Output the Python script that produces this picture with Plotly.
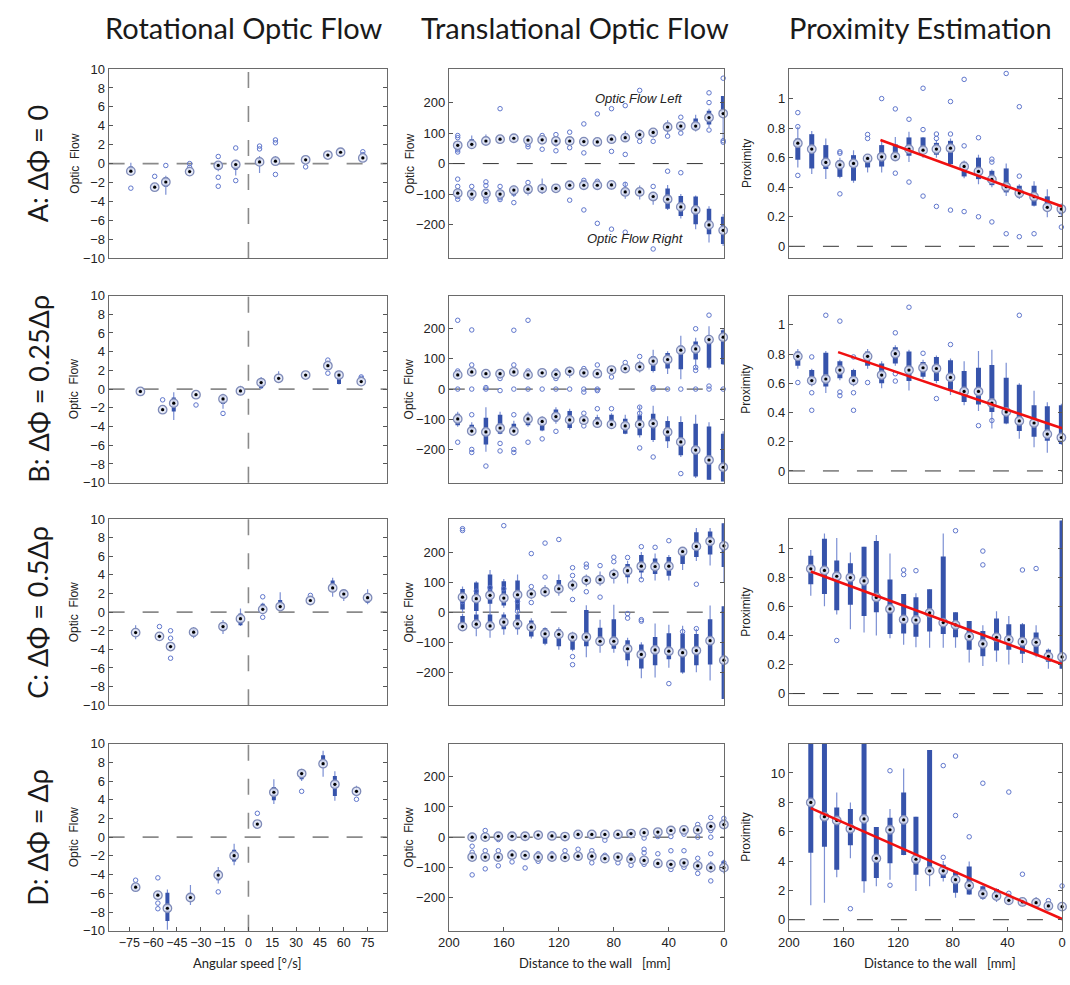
import plotly.graph_objects as go

# ======================= DATA =======================
# ---- Column 1: Rotational optic flow (x = angular speed, deg/s) ----
A_rot_x = [-74, -59, -52, -37, -19, -8, 7, 17, 36, 50, 58, 72]
A_rot_med = [-0.8, -2.5, -1.95, -0.85, -0.2, -0.1, 0.18, 0.25, 0.4, 0.9, 1.2, 0.6]
A_rot_q1 = [-1.0, -2.6, -2.45, -0.95, -0.65, -0.65, 0.0, 0.05, 0.3, 0.8, 1.05, 0.5]
A_rot_q3 = [-0.3, -2.3, -1.45, -0.7, 0.0, 0.05, 0.6, 0.65, 0.5, 1.0, 1.35, 0.7]
A_rot_lo = [-1.1, -2.7, -3.3, -1.1, -0.8, -1.25, -1.0, -0.1, 0.2, 0.7, 1.0, 0.4]
A_rot_hi = [0.1, -2.1, -1.3, -0.5, 0.2, 0.4, 0.8, 0.8, 0.6, 1.1, 1.4, 0.8]
A_rot_ox = [-74, -59, -52, -37, -37, -19, -19, -19, -8, -8, 7, 7, 17, 17, 17, 36, 72, 72]
A_rot_oy = [-2.6, -1.35, -0.2, 0.0, -0.4, 0.75, -1.45, -2.4, 1.65, -1.8, 1.85, 1.55, 2.5, 2.2, -1.15, -0.35, 1.25, 0.95]

B_rot_x = [-68, -54, -47, -33, -16, -5, 8, 19, 36, 50, 57, 71]
B_rot_med = [-0.25, -2.2, -1.5, -0.6, -1.05, -0.2, 0.7, 1.15, 1.5, 2.5, 1.5, 0.8]
B_rot_q1 = [-0.4, -2.35, -2.4, -0.7, -1.6, -0.4, 0.1, 1.0, 1.35, 2.3, 0.55, 0.7]
B_rot_q3 = [-0.1, -2.05, -0.9, -0.5, -0.7, -0.05, 1.15, 1.3, 1.6, 2.7, 1.8, 0.95]
B_rot_lo = [-0.55, -2.45, -3.3, -0.8, -2.1, -0.65, 0.0, 0.7, 1.2, 2.1, 0.5, 0.6]
B_rot_hi = [0.05, -1.9, -0.35, -0.4, -0.5, 0.35, 1.3, 1.9, 1.7, 2.9, 1.9, 1.05]
B_rot_ox = [-54, -33, -16, 50, 50, 50, 71, 71]
B_rot_oy = [-1.15, -1.7, -2.6, 3.1, 2.75, 1.7, 1.3, 1.15]

C_rot_x = [-71, -56, -49, -34.5, -16, -5, 9, 20, 39, 53, 60, 75]
C_rot_med = [-2.2, -2.6, -3.7, -2.15, -1.55, -0.7, 0.3, 0.6, 1.25, 2.6, 1.95, 1.55]
C_rot_q1 = [-2.35, -2.75, -3.85, -2.65, -2.0, -1.4, 0.2, 0.4, 1.1, 2.3, 1.65, 1.0]
C_rot_q3 = [-2.05, -2.45, -3.55, -1.8, -1.15, -0.15, 0.9, 1.3, 1.4, 3.4, 2.35, 1.8]
C_rot_lo = [-2.9, -2.9, -4.0, -2.8, -2.35, -1.5, 0.05, 0.2, 0.95, 1.65, 1.2, 0.85]
C_rot_hi = [-1.4, -2.2, -3.4, -1.6, -0.85, 0.4, 1.0, 2.15, 1.5, 3.7, 2.5, 2.45]
C_rot_ox = [-56, -49, -49, -49, 9, 9, 39]
C_rot_oy = [-1.55, -2.0, -2.8, -4.95, 1.65, -0.55, 1.8]

D_rot_x = [-71, -57, -51, -36.5, -19, -9, 5.6, 16, 33.5, 47, 54.4, 68]
D_rot_med = [-5.35, -6.2, -7.6, -6.45, -4.05, -1.98, 1.4, 4.8, 6.8, 7.85, 5.65, 4.9]
D_rot_q1 = [-5.6, -6.4, -8.95, -6.7, -4.6, -2.6, 1.2, 3.95, 6.2, 7.6, 4.4, 4.7]
D_rot_q3 = [-5.1, -5.95, -5.95, -6.0, -3.55, -1.35, 1.6, 5.35, 7.15, 8.75, 6.55, 5.1]
D_rot_lo = [-5.85, -6.5, -9.9, -7.25, -4.95, -3.0, 1.1, 3.55, 6.0, 6.45, 3.9, 4.4]
D_rot_hi = [-4.95, -5.8, -5.6, -5.1, -3.2, -0.7, 1.7, 6.2, 7.3, 9.25, 7.05, 5.5]
D_rot_ox = [-71, -57, -57, -57, -19, 5.6, 33.5, 68]
D_rot_oy = [-4.6, -4.35, -7.05, -7.65, -5.85, 2.55, 4.9, 4.05]

# ---- Column 2: Translational optic flow (x = distance to wall, mm) ----
A_tra_x = [193.5, 183.3, 173, 162.7, 152.7, 142.4, 132.1, 122.1, 112.1, 101.8,
           92, 81.7, 71.7, 61.2, 51.4, 40.9, 31.3, 20.5, 10.8, 0.5]
A_traL_med = [60, 63, 74, 80, 83, 77, 78, 74, 74, 72, 71, 80, 85, 95, 102, 120, 123, 123, 151, 164]
A_traL_q1 = [48, 55, 67, 74, 76, 70, 72, 67, 67, 66, 65, 72, 76, 86, 92, 108, 113, 110, 128, 156]
A_traL_q3 = [68, 80, 80, 87, 89, 82, 84, 80, 80, 78, 77, 86, 100, 103, 110, 130, 130, 148, 173, 222]
A_traL_lo = [40, 50, 60, 70, 70, 65, 65, 60, 60, 60, 60, 65, 72, 80, 85, 95, 105, 105, 120, 74]
A_traL_hi = [75, 92, 95, 92, 96, 87, 90, 86, 86, 84, 84, 92, 108, 112, 115, 142, 135, 160, 180, 222]
A_traL_ox = [193.5, 193.5, 193.5, 193.5, 162.7, 142.4, 142.4, 132.1, 132.1, 122.1, 122.1, 122.1,
             112.1, 112.1, 101.8, 101.8, 92, 81.7, 81.7, 71.7, 71.7, 61.2, 61.2, 51.4, 40.9,
             31.3, 31.3, 10.8, 10.8, 10.8, 0.5, 0.5, 0.5]
A_traL_oy = [92, 85, 45, 38, 180, 63, 55, 92, 47, 95, 65, 42, 103, 52, 130, 35, 163, 180, 40,
             190, 30, 240, 73, 73, 90, 152, 100, 232, 200, 110, 280, 75, 70]
A_traR_med = [-97, -100, -98, -100, -87, -84, -82, -81, -71, -71, -71, -70, -93, -93, -108, -117, -142, -152, -201, -219]
A_traR_q3 = [-85, -88, -90, -90, -78, -75, -68, -73, -63, -63, -63, -63, -82, -80, -100, -82, -106, -108, -148, -174]
A_traR_q1 = [-108, -110, -108, -110, -105, -100, -95, -90, -78, -78, -78, -78, -105, -105, -122, -148, -172, -199, -232, -264]
A_traR_hi = [-80, -82, -85, -85, -72, -70, -49, -68, -58, -58, -58, -58, -60, -72, -92, -70, -100, -105, -140, -165]
A_traR_lo = [-112, -115, -112, -115, -110, -105, -100, -95, -85, -85, -85, -85, -115, -118, -135, -152, -180, -215, -259, -270]
A_traR_ox = [193.5, 193.5, 193.5, 193.5, 183.3, 183.3, 173, 173, 173, 173, 162.7, 162.7, 162.7,
             152.7, 142.4, 112.1, 101.8, 101.8, 101.8, 92, 92, 81.7, 71.7, 71.7, 51.4, 51.4, 40.9, 31.3]
A_traR_oy = [-51, -75, -108, -117, -75, -113, -60, -72, -113, -123, -75, -112, -118, -128, -62,
             -120, -55, -62, -152, -58, -196, -215, -68, -225, -75, -280, -25, -30]

B_tra_x = [193.5, 183.3, 173, 162.7, 152.7, 142.4, 132.1, 122.1, 112.1, 101.8,
           92, 81.7, 71.7, 61.2, 51.4, 40.9, 31.3, 20.5, 10.8, 0.5]
B_traL_med = [47, 57, 51, 51, 57, 47, 54, 49, 59, 54, 51, 63, 68, 74, 93, 98, 129, 133, 164, 172]
B_traL_q1 = [40, 50, 45, 42, 50, 40, 48, 42, 45, 45, 45, 55, 60, 62, 60, 68, 66, 98, 71, 82]
B_traL_q3 = [55, 62, 56, 58, 62, 55, 58, 56, 65, 60, 58, 68, 73, 84, 109, 120, 144, 158, 172, 195]
B_traL_lo = [35, 45, 40, 35, 45, 35, 42, 38, 38, 40, 40, 48, 55, 55, 55, 50, 33, 70, 65, 80]
B_traL_hi = [60, 67, 60, 62, 66, 60, 62, 60, 70, 65, 62, 72, 80, 95, 130, 125, 177, 170, 208, 200]
B_traL_ox = [193.5, 193.5, 193.5, 183.3, 183.3, 183.3, 173, 173, 162.7, 162.7, 152.7, 152.7, 152.7,
             142.4, 142.4, 142.4, 132.1, 122.1, 122.1, 122.1, 112.1, 112.1, 101.8, 101.8, 101.8,
             92, 92, 92, 81.7, 71.7, 61.2, 51.4, 51.4, 40.9, 31.3, 20.5, 20.5, 20.5, 20.5,
             10.8, 10.8, 10.8, 0.5]
B_traL_oy = [228, 60, 0, 196, 80, 0, 5, 0, 35, -5, 195, 80, 0,
             228, 60, 0, 0, 60, 35, 0, 65, 0, 68, -10, 0,
             80, -5, 0, 40, 88, 108, 5, 0, 0, 0, 200, 72, 62, 0,
             245, 10, 0, 0]
B_traR_med = [-99, -139, -142, -129, -139, -99, -107, -91, -102, -103, -113, -117, -122, -117, -114, -142, -175, -202, -235, -259]
B_traR_q3 = [-82, -118, -95, -85, -115, -82, -96, -68, -73, -90, -93, -85, -98, -87, -82, -106, -109, -115, -124, -148]
B_traR_q1 = [-120, -145, -184, -148, -144, -120, -137, -107, -129, -111, -120, -126, -148, -153, -169, -173, -219, -290, -300, -306]
B_traR_hi = [-75, -110, -60, -75, -105, -75, -90, -60, -65, -85, -85, -80, -85, -55, -55, -90, -90, -85, -110, -140]
B_traR_lo = [-125, -150, -208, -150, -150, -125, -140, -115, -135, -115, -125, -130, -150, -160, -175, -195, -225, -295, -300, -306]
B_traR_ox = [193.5, 183.3, 183.3, 183.3, 173, 162.7, 162.7, 152.7, 152.7, 152.7, 142.4, 132.1, 122.1,
             101.8, 101.8, 92, 81.7, 61.2, 61.2, 61.2, 51.4, 31.3]
B_traR_oy = [-176, -85, -200, -210, -255, -180, -205, -85, -200, -210, -176, -165, -140,
             -80, -122, -65, -65, -195, -80, -60, -225, -280]

C_tra_x = [190, 180, 170, 160, 150, 140, 130, 120, 110, 100, 90, 80, 70, 60, 50, 40, 30, 20, 10, 0]
C_traL_med = [50, 45, 56, 47, 58, 61, 68, 78, 90, 106, 108, 126, 138, 153, 152, 153, 202, 219, 236, 221]
C_traL_q1 = [9, 4, 28, 22, 7, 52, 60, 67, 80, 95, 95, 110, 116, 132, 127, 121, 160, 184, 192, 150]
C_traL_q3 = [77, 99, 125, 103, 105, 68, 78, 107, 103, 118, 122, 135, 160, 190, 179, 184, 211, 266, 269, 296]
C_traL_lo = [0, -5, 0, 15, 0, 45, 50, 55, 70, 85, 88, 95, 95, 110, 105, 105, 140, 170, 155, 100]
C_traL_hi = [85, 103, 140, 110, 125, 75, 90, 125, 110, 125, 135, 145, 170, 200, 195, 190, 212, 280, 280, 296]
C_traL_ox = [190, 190, 190, 180, 170, 160, 160, 150, 150, 140, 140, 140, 130, 130, 120, 110, 110, 110,
             100, 100, 100, 90, 90, 80, 80, 70, 60, 60, 50, 40, 20]
C_traL_oy = [278, 272, 35, 70, 82, 288, 78, 35, 3, 195, 85, 32, 230, 117, 242, 148, 122, 42,
             160, 150, 68, 155, 50, 183, 168, 182, 218, 108, 216, 238, 93]
C_traR_med = [-48, -40, -46, -33, -39, -50, -72, -74, -83, -83, -97, -97, -122, -141, -126, -130, -135, -128, -95, -160]
C_traR_q3 = [-13, -8, -8, -8, -8, -28, -54, -57, -70, 7, -52, -24, -94, -108, -83, -70, -72, -73, -24, 20]
C_traR_q1 = [-54, -54, -54, -57, -57, -81, -105, -114, -125, -114, -113, -122, -160, -188, -177, -157, -201, -177, -174, -289]
C_traR_hi = [-5, 0, 0, 0, 0, -20, -50, -50, -65, 23, -25, 25, -85, -100, -38, -42, -45, -55, 22, 20]
C_traR_lo = [-60, -80, -85, -75, -75, -88, -110, -125, -130, -150, -135, -135, -180, -220, -218, -185, -205, -200, -228, -289]
C_traR_ox = [110, 110, 70, 70, 60, 60, 40, 30, 20]
C_traR_oy = [-148, -175, -5, -20, -25, -30, -238, -65, -55]

D_tra_x = [183, 173.5, 164, 154, 144.5, 135, 125, 115.5, 106, 96, 86.5, 77, 67.5, 58, 48, 38.5, 29, 19, 9.5, 0]
D_traL_med = [0, 0, 3, 3, 3, 7, 4, 2, 9, 9, 9, 9, 12, 15, 17, 22, 24, 24, 36, 42]
D_traL_q1 = [-3, -3, 0, 0, 0, 3, 0, -2, 5, 5, 5, 5, 8, 11, 13, 18, 20, 20, 30, 35]
D_traL_q3 = [4, 4, 7, 7, 7, 10, 8, 6, 13, 13, 13, 13, 16, 19, 21, 26, 28, 28, 42, 50]
D_traL_lo = [-6, -6, -3, -3, -3, 0, -3, -5, 2, 2, 2, 2, 5, 8, 10, 15, 17, 17, 26, 30]
D_traL_hi = [7, 7, 10, 10, 10, 13, 11, 9, 16, 16, 16, 16, 19, 22, 24, 29, 31, 31, 46, 56]
D_traL_ox = [183, 183, 173.5, 164, 164, 154, 144.5, 135, 125, 115.5, 106, 96, 86.5, 77, 67.5, 58, 48,
             38.5, 29, 19, 19, 9.5, 9.5, 9.5, 0, 0]
D_traL_oy = [5, -3, 22, 5, -8, 5, 3, 5, 10, -3, 10, 8, -10, 5, 12, -3, 2,
             2, 10, 42, 0, 65, 22, 0, 62, 45]
D_traR_med = [-66, -66, -66, -59, -60, -66, -66, -67, -63, -63, -71, -66, -73, -77, -87, -90, -85, -95, -101, -101]
D_traR_q3 = [-61, -61, -61, -54, -55, -61, -61, -62, -58, -58, -66, -61, -68, -72, -82, -85, -80, -88, -85, -80]
D_traR_q1 = [-72, -72, -72, -65, -66, -72, -72, -73, -69, -69, -77, -72, -79, -83, -93, -96, -91, -103, -110, -115]
D_traR_hi = [-57, -57, -57, -50, -51, -57, -50, -58, -54, -54, -62, -57, -64, -68, -78, -81, -76, -84, -80, -75]
D_traR_lo = [-76, -76, -76, -69, -70, -76, -76, -77, -73, -73, -81, -76, -83, -87, -97, -100, -95, -110, -118, -120]
D_traR_ox = [183, 183, 183, 173.5, 173.5, 164, 164, 154, 154, 144.5, 135, 135, 125, 115.5, 106, 96, 96,
             86.5, 77, 67.5, 67.5, 58, 58, 58, 48, 38.5, 38.5, 29, 29, 19, 19, 9.5, 9.5, 0]
D_traR_oy = [-30, -50, -125, -45, -105, -45, -95, -50, -82, -102, -55, -80, -55, -45, -40, -45, -85,
             -60, -85, -60, -93, -40, -52, -90, -55, -45, -107, -45, -100, -70, -120, -55, -145, -85]

# ---- Column 3: Proximity estimation ----
A_pro_x = [193.5, 183.3, 173, 162.7, 152.7, 142.4, 132.1, 122.1, 112.1, 101.8,
           92, 81.7, 71.7, 61.2, 51.4, 40.9, 31.3, 20.5, 10.8, 0.5]
A_pro_med = [0.698, 0.658, 0.568, 0.552, 0.561, 0.595, 0.606, 0.608, 0.658, 0.651, 0.658, 0.664, 0.541, 0.507, 0.453, 0.403, 0.360, 0.336, 0.264, 0.252]
A_pro_q1 = [0.586, 0.527, 0.523, 0.47, 0.444, 0.534, 0.54, 0.586, 0.613, 0.635, 0.62, 0.556, 0.473, 0.455, 0.414, 0.365, 0.331, 0.275, 0.252, 0.218]
A_pro_q3 = [0.73, 0.759, 0.685, 0.58, 0.617, 0.613, 0.685, 0.69, 0.737, 0.737, 0.70, 0.714, 0.572, 0.60, 0.511, 0.527, 0.41, 0.41, 0.338, 0.27]
A_pro_lo = [0.534, 0.49, 0.455, 0.46, 0.43, 0.5, 0.5, 0.58, 0.57, 0.6, 0.6, 0.55, 0.46, 0.42, 0.40, 0.34, 0.32, 0.27, 0.196, 0.20]
A_pro_hi = [0.81, 0.78, 0.73, 0.6, 0.65, 0.62, 0.72, 0.74, 0.775, 0.74, 0.72, 0.73, 0.58, 0.62, 0.52, 0.56, 0.42, 0.44, 0.387, 0.29]
A_pro_ox = [193.5, 193.5, 193.5, 162.7, 162.7, 162.7, 142.4, 142.4, 132.1, 122.1, 122.1, 112.1, 112.1,
            101.8, 101.8, 101.8, 92, 92, 92, 81.7, 81.7, 81.7, 71.7, 71.7, 71.7, 61.2, 61.2,
            51.4, 51.4, 51.4, 40.9, 40.9, 31.3, 31.3, 31.3, 20.5, 0.5]
A_pro_oy = [0.905, 0.81, 0.48, 0.64, 0.63, 0.355, 0.757, 0.73, 1.0, 0.93, 0.495, 0.86, 0.435,
            1.07, 0.79, 0.34, 0.76, 0.73, 0.27, 0.98, 0.76, 0.245, 1.13, 0.68, 0.235, 0.735, 0.2,
            0.59, 0.57, 0.165, 1.17, 0.085, 0.945, 0.475, 0.065, 0.085, 0.13]
A_fit_x = [133, 0]
A_fit_y = [0.72, 0.27]

B_pro_x = [193.5, 183.3, 173, 162.7, 152.7, 142.4, 132.1, 122.1, 112.1, 101.8,
           92, 81.7, 71.7, 61.2, 51.4, 40.9, 31.3, 20.5, 10.8, 0.5]
B_pro_med = [0.784, 0.618, 0.629, 0.690, 0.618, 0.784, 0.656, 0.802, 0.690, 0.706, 0.701, 0.640, 0.544, 0.544, 0.465, 0.404, 0.342, 0.328, 0.252, 0.229]
B_pro_q1 = [0.719, 0.589, 0.578, 0.634, 0.589, 0.719, 0.60, 0.735, 0.616, 0.645, 0.616, 0.555, 0.472, 0.454, 0.404, 0.324, 0.274, 0.234, 0.207, 0.184]
B_pro_q3 = [0.818, 0.69, 0.809, 0.751, 0.69, 0.818, 0.735, 0.847, 0.818, 0.746, 0.78, 0.757, 0.683, 0.706, 0.724, 0.638, 0.589, 0.449, 0.443, 0.449]
B_pro_lo = [0.70, 0.58, 0.534, 0.62, 0.58, 0.70, 0.565, 0.72, 0.55, 0.63, 0.60, 0.52, 0.45, 0.41, 0.29, 0.32, 0.22, 0.162, 0.125, 0.18]
B_pro_hi = [0.835, 0.70, 0.82, 0.76, 0.70, 0.835, 0.75, 0.86, 0.83, 0.76, 0.79, 0.77, 0.75, 0.82, 0.83, 0.74, 0.60, 0.548, 0.47, 0.46]
B_pro_ox = [193.5, 183.3, 183.3, 183.3, 173, 162.7, 162.7, 162.7, 152.7, 152.7, 152.7, 142.4,
            122.1, 122.1, 122.1, 112.1, 101.8, 92, 81.7, 61.2, 51.4, 31.3]
B_pro_oy = [0.605, 0.78, 0.535, 0.415, 1.065, 1.025, 0.54, 0.515, 0.78, 0.535, 0.415, 0.605,
            0.945, 0.665, 0.615, 1.12, 0.805, 0.495, 0.865, 0.31, 0.345, 1.065]
B_fit_x = [164, 0]
B_fit_y = [0.813, 0.292]

C_pro_x = [184, 174, 165, 155, 145, 136, 126, 116, 107, 97, 87, 78, 68, 58, 48, 39, 29, 19, 10, 0]
C_pro_med = [0.858, 0.847, 0.807, 0.798, 0.775, 0.661, 0.582, 0.510, 0.506, 0.555, 0.488, 0.472, 0.393, 0.342, 0.387, 0.371, 0.357, 0.353, 0.256, 0.252]
C_pro_q1 = [0.751, 0.685, 0.573, 0.611, 0.533, 0.56, 0.409, 0.413, 0.391, 0.427, 0.409, 0.387, 0.301, 0.256, 0.297, 0.301, 0.274, 0.263, 0.218, 0.17]
C_pro_q3 = [0.948, 1.065, 0.915, 0.897, 1.01, 1.05, 0.784, 0.685, 0.663, 0.717, 0.942, 0.56, 0.499, 0.431, 0.517, 0.476, 0.476, 0.42, 0.301, 1.19]
C_pro_lo = [0.672, 0.6, 0.544, 0.443, 0.42, 0.40, 0.38, 0.335, 0.319, 0.315, 0.315, 0.315, 0.213, 0.189, 0.218, 0.20, 0.21, 0.25, 0.17, 0.17]
C_pro_hi = [0.987, 1.1, 1.07, 0.97, 1.01, 1.09, 0.964, 0.685, 0.69, 0.717, 1.1, 0.56, 0.499, 0.47, 0.566, 0.533, 0.486, 0.47, 0.31, 1.19]
C_pro_ox = [165, 116, 116, 107, 78, 58, 58, 29, 19]
C_pro_oy = [0.365, 0.818, 0.85, 0.845, 1.12, 0.98, 0.885, 0.85, 0.86]
C_fit_x = [184, 0]
C_fit_y = [0.84, 0.202]

D_pro_x = [184, 174, 165, 155, 145, 136, 126, 116, 107, 97, 87, 78, 68, 58, 48, 39, 29, 19, 10, 0]
D_pro_med = [7.99, 7.02, 6.76, 6.2, 6.87, 4.18, 6.13, 6.8, 4.12, 3.33, 3.33, 2.73, 2.33, 1.77, 1.61, 1.32, 1.21, 1.16, 0.94, 0.89]
D_pro_q1 = [4.56, 4.97, 3.4, 5.08, 2.62, 2.84, 3.85, 4.41, 3.06, 3.25, 2.84, 1.83, 1.72, 1.43, 1.4, 1.1, 1.0, 0.95, 0.75, 0.7]
D_pro_q3 = [13, 13, 7.65, 7.54, 13, 6.31, 6.94, 8.66, 7.02, 11.57, 3.74, 3.29, 3.62, 2.28, 2.1, 1.7, 1.35, 1.35, 1.1, 1.0]
D_pro_lo = [0.98, 1.16, 2.9, 4.18, 1.83, 2.28, 2.73, 4.4, 1.95, 2.28, 2.6, 1.5, 1.7, 1.35, 1.2, 1.0, 0.9, 0.85, 0.7, 0.65]
D_pro_hi = [13, 13, 8.66, 7.99, 13, 6.31, 7.54, 10.3, 7.02, 11.57, 4.0, 3.29, 3.96, 2.35, 2.15, 1.8, 1.5, 1.55, 1.2, 1.1]
D_pro_ox = [155, 126, 126, 87, 87, 78, 78, 68, 58, 39, 39, 29, 10, 0]
D_pro_oy = [0.75, 10.15, 2.35, 10.5, 4.25, 11.15, 7.1, 5.65, 9.3, 8.7, 1.8, 3.1, 1.3, 2.3]
D_fit_x = [184, 0]
D_fit_y = [7.6, 0.05]

# ---- text ----
COL_TITLES = ["Rotational Optic Flow", "Translational Optic Flow", "Proximity Estimation"]
ROW_LABELS = ["A: ΔΦ = 0", "B: ΔΦ = 0.25Δρ", "C: ΔΦ = 0.5Δρ", "D: ΔΦ = Δρ"]
ROT_TICKS = [-75, -60, -45, -30, -15, 0, 15, 30, 45, 60, 75]
ROT_YTICKS = [-10, -8, -6, -4, -2, 0, 2, 4, 6, 8, 10]
TRA_YTICKS = [-200, -100, 0, 100, 200]
DIST_TICKS = [200, 160, 120, 80, 40, 0]
PRO_YTICKS = [0, 0.2, 0.4, 0.6, 0.8, 1]
PRO_YTICKS_D = [0, 2, 4, 6, 8, 10]

# ======================= FIGURE =======================
W, H = 1070, 985
COLS_PX = [(99, 381), (444, 723), (789, 1066)]
ROWS_PX = [(63, 255), (293, 483), (520, 709), (748, 938)]

BOX_C = "#3653ab"
WHISK_C = "#7c90d4"
OUT_C = "#5f76cc"
RING_C = "#7f8bb8"
TICK_FONT = dict(family="Liberation Sans, Arial", size=13, color="#222")
LABEL_FONT = "Lato, Open Sans, sans-serif"

fig = go.Figure()


def refs(i):
    return ("x" if i == 1 else f"x{i}"), ("y" if i == 1 else f"y{i}")


def add_boxes(i, xs, med, q1, q3, lo, hi, ox, oy, bw=4.5):
    xr, yr = refs(i)
    wx, wy, bx, by = [], [], [], []
    for x, a, b in zip(xs, lo, hi):
        wx += [x, x, None]
        wy += [a, b, None]
    for x, a, b in zip(xs, q1, q3):
        bx += [x, x, None]
        by += [a, b, None]
    common = dict(xaxis=xr, yaxis=yr, showlegend=False, hoverinfo="skip")
    fig.add_trace(go.Scatter(x=wx, y=wy, mode="lines", line=dict(color=WHISK_C, width=1.2), **common))
    fig.add_trace(go.Scatter(x=bx, y=by, mode="lines", line=dict(color=BOX_C, width=bw), **common))
    fig.add_trace(go.Scatter(x=ox, y=oy, mode="markers", cliponaxis=False,
                             marker=dict(symbol="circle-open", size=4.5, color=OUT_C, line=dict(width=1)), **common))
    fig.add_trace(go.Scatter(x=xs, y=med, mode="markers", cliponaxis=False,
                             marker=dict(symbol="circle", size=8.5, color="rgba(230,234,246,0.85)",
                                         line=dict(color=RING_C, width=1.3)), **common))
    fig.add_trace(go.Scatter(x=xs, y=med, mode="markers", cliponaxis=False,
                             marker=dict(symbol="circle", size=3.2, color="black"), **common))


def add_fit(i, fx, fy):
    xr, yr = refs(i)
    fig.add_trace(go.Scatter(x=fx, y=fy, mode="lines", line=dict(color="#f01010", width=2.6),
                             xaxis=xr, yaxis=yr, showlegend=False, hoverinfo="skip"))


rot = [(A_rot_x, A_rot_med, A_rot_q1, A_rot_q3, A_rot_lo, A_rot_hi, A_rot_ox, A_rot_oy),
       (B_rot_x, B_rot_med, B_rot_q1, B_rot_q3, B_rot_lo, B_rot_hi, B_rot_ox, B_rot_oy),
       (C_rot_x, C_rot_med, C_rot_q1, C_rot_q3, C_rot_lo, C_rot_hi, C_rot_ox, C_rot_oy),
       (D_rot_x, D_rot_med, D_rot_q1, D_rot_q3, D_rot_lo, D_rot_hi, D_rot_ox, D_rot_oy)]
traL = [(A_tra_x, A_traL_med, A_traL_q1, A_traL_q3, A_traL_lo, A_traL_hi, A_traL_ox, A_traL_oy),
        (B_tra_x, B_traL_med, B_traL_q1, B_traL_q3, B_traL_lo, B_traL_hi, B_traL_ox, B_traL_oy),
        (C_tra_x, C_traL_med, C_traL_q1, C_traL_q3, C_traL_lo, C_traL_hi, C_traL_ox, C_traL_oy),
        (D_tra_x, D_traL_med, D_traL_q1, D_traL_q3, D_traL_lo, D_traL_hi, D_traL_ox, D_traL_oy)]
traR = [(A_tra_x, A_traR_med, A_traR_q1, A_traR_q3, A_traR_lo, A_traR_hi, A_traR_ox, A_traR_oy),
        (B_tra_x, B_traR_med, B_traR_q1, B_traR_q3, B_traR_lo, B_traR_hi, B_traR_ox, B_traR_oy),
        (C_tra_x, C_traR_med, C_traR_q1, C_traR_q3, C_traR_lo, C_traR_hi, C_traR_ox, C_traR_oy),
        (D_tra_x, D_traR_med, D_traR_q1, D_traR_q3, D_traR_lo, D_traR_hi, D_traR_ox, D_traR_oy)]
pro = [(A_pro_x, A_pro_med, A_pro_q1, A_pro_q3, A_pro_lo, A_pro_hi, A_pro_ox, A_pro_oy),
       (B_pro_x, B_pro_med, B_pro_q1, B_pro_q3, B_pro_lo, B_pro_hi, B_pro_ox, B_pro_oy),
       (C_pro_x, C_pro_med, C_pro_q1, C_pro_q3, C_pro_lo, C_pro_hi, C_pro_ox, C_pro_oy),
       (D_pro_x, D_pro_med, D_pro_q1, D_pro_q3, D_pro_lo, D_pro_hi, D_pro_ox, D_pro_oy)]
fits = [(A_fit_x, A_fit_y), (B_fit_x, B_fit_y), (C_fit_x, C_fit_y), (D_fit_x, D_fit_y)]

shapes = []
annotations = []
layout = {}

for r in range(4):
    for c in range(3):
        i = r * 3 + c + 1
        xr, yr = refs(i)
        if c == 0:
            add_boxes(i, *rot[r], bw=4)
        elif c == 1:
            add_boxes(i, *traL[r])
            add_boxes(i, *traR[r])
        else:
            add_boxes(i, *pro[r], bw=5)
            add_fit(i, *fits[r])

        x0, x1 = COLS_PX[c]
        y0, y1 = ROWS_PX[r]
        xdom = [x0 / W, x1 / W]
        ydom = [1 - y1 / H, 1 - y0 / H]
        bottom = (r == 3)
        xfont = dict(TICK_FONT, size=12.5) if c == 0 else TICK_FONT
        xa = dict(domain=xdom, anchor=yr, showline=True, mirror=True, linecolor="#6a6a6a",
                  linewidth=1, showgrid=False, zeroline=False, tickfont=xfont, tickangle=0,
                  ticks="inside" if bottom else "", ticklen=4, tickcolor="#555",
                  showticklabels=bottom)
        ya = dict(domain=ydom, anchor=xr, showline=True, mirror="ticks", linecolor="#6a6a6a",
                  linewidth=1, showgrid=False, zeroline=False, tickfont=TICK_FONT,
                  ticks="inside", ticklen=4, tickcolor="#555")
        if c == 0:
            xa.update(range=[-88, 87], tickmode="array", tickvals=ROT_TICKS)
            ya.update(range=[-10, 10], tickmode="array", tickvals=ROT_YTICKS)
        elif c == 1:
            xa.update(range=[200, 0], tickmode="array", tickvals=DIST_TICKS)
            ya.update(range=[-310, 310], tickmode="array", tickvals=TRA_YTICKS)
        else:
            xa.update(range=[200, 0], tickmode="array", tickvals=DIST_TICKS)
            if r < 3:
                ya.update(range=[-0.08, 1.2], tickmode="array", tickvals=PRO_YTICKS,
                          ticktext=[str(v) if v not in (0, 1) else str(int(v)) for v in PRO_YTICKS])
            else:
                ya.update(range=[-0.75, 12], tickmode="array", tickvals=PRO_YTICKS_D)
        layout[("xaxis" if i == 1 else f"xaxis{i}")] = xa
        layout[("yaxis" if i == 1 else f"yaxis{i}")] = ya

        if c == 0:
            dash_col, dash_w = "#8a8a8a", 1.6
        else:
            dash_col, dash_w = "#333333", 1
        shapes.append(dict(type="line", layer="below", xref=f"{xr} domain", yref=yr,
                           x0=0, x1=1, y0=0, y1=0,
                           line=dict(color=dash_col, width=dash_w, dash="16px,18px")))
        if c == 0:
            shapes.append(dict(type="line", layer="below", xref=xr, yref=f"{yr} domain",
                               x0=0, x1=0, y0=0, y1=1,
                               line=dict(color=dash_col, width=dash_w, dash="16px,18px")))

        ytitle = "Proximity" if c == 2 else "Optic  Flow"
        ytx = [64, 404, 746][c]
        annotations.append(dict(text=ytitle, xref="paper", yref="paper", x=ytx / W,
                                y=1 - (y0 + y1) / 2 / H, textangle=-90, showarrow=False,
                                font=dict(family="Liberation Sans, Arial", size=12, color="#222"),
                                xanchor="center", yanchor="middle"))

for c, t in enumerate(COL_TITLES):
    cx = [236, 572, 922][c]
    annotations.append(dict(text=t, xref="paper", yref="paper", x=cx / W, y=1 - 21 / H,
                            showarrow=False, xanchor="center", yanchor="middle",
                            font=dict(family=LABEL_FONT, size=29, color="#1a1a1a")))
for r, t in enumerate(ROW_LABELS):
    y0, y1 = ROWS_PX[r]
    annotations.append(dict(text=t, xref="paper", yref="paper", x=27 / W,
                            y=1 - (y0 + y1) / 2 / H, textangle=-90, showarrow=False,
                            xanchor="center", yanchor="middle",
                            font=dict(family=LABEL_FONT, size=27, color="#1a1a1a")))
for c, t in enumerate(["Angular speed [°/s]", "Distance to the wall   [mm]", "Distance to the wall   [mm]"]):
    cx = [240, 592, 942][c]
    annotations.append(dict(text=t, xref="paper", yref="paper", x=cx / W, y=1 - 971 / H,
                            showarrow=False, xanchor="center", yanchor="middle",
                            font=dict(family=LABEL_FONT, size=13, color="#222")))
annotations.append(dict(text="<i>Optic Flow Left</i>", xref="x2", yref="y2", x=62, y=212,
                        showarrow=False, font=dict(family="Liberation Sans, Arial", size=13, color="#222")))
annotations.append(dict(text="<i>Optic Flow Right</i>", xref="x2", yref="y2", x=64, y=-245,
                        showarrow=False, font=dict(family="Liberation Sans, Arial", size=13, color="#222")))

fig.update_layout(width=W, height=H, margin=dict(l=0, r=0, t=0, b=0),
                  paper_bgcolor="white", plot_bgcolor="white",
                  shapes=shapes, annotations=annotations, showlegend=False, **layout)

fig.write_html("out.html")
